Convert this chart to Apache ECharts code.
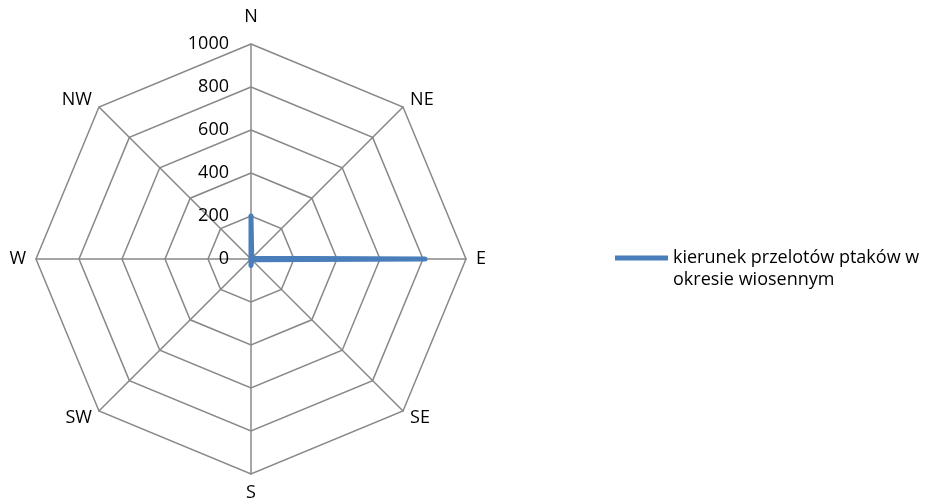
<!DOCTYPE html>
<html><head><meta charset="utf-8">
<script src="https://cdn.jsdelivr.net/npm/echarts@6/dist/echarts.min.js"></script>
<style>html,body{margin:0;padding:0;background:#fff}#c{width:936px;height:503px}</style>
</head><body><div id="c"></div>
<script>
// clockwise from North
const directions = ['N', 'NE', 'E', 'SE', 'S', 'SW', 'W', 'NW'];
const values = [200, 5, 810, 5, 30, 0, 0, 0];
const seriesName = 'kierunek przelotów ptaków w\nokresie wiosennym';
const axisMax = 1000;
const tickCount = 5;

// ECharts radar goes counter-clockwise; reorder so N stays on top and E on the right
const order = [0, 7, 6, 5, 4, 3, 2, 1];
const indicators = order.map((i, k) => ({
  name: directions[i], max: axisMax, min: 0,
  nameGap: k === 0 ? 18 : 10,
  axisLabel: {
    show: k === 0, color: '#000', fontSize: 18, fontFamily: 'Open Sans', margin: 22,
    formatter: v => String(v)
  }
}));
const data = order.map(i => values[i]);

const chart = echarts.init(document.getElementById('c'), null, { renderer: 'canvas' });
chart.setOption({
  animation: false,
  legend: {
    left: 610, top: 220, orient: 'vertical',
    itemWidth: 53, itemHeight: 5,
    icon: 'rect',
    formatter: name => ' \n' + name,
    textStyle: { fontSize: 18, fontFamily: 'Open Sans', color: '#000', lineHeight: 22 },
    data: [seriesName]
  },
  radar: {
    center: [251, 259], radius: 215, startAngle: 90,
    shape: 'polygon', splitNumber: tickCount,
    indicator: indicators,
    axisName: { color: '#000', fontSize: 18, fontFamily: 'Open Sans' },
    nameGap: 10,
    axisLine: { lineStyle: { color: '#888888', width: 1.5 } },
    splitLine: { lineStyle: { color: '#888888', width: 1.5 } },
    splitArea: { show: false },
    axisTick: { show: false },
    axisLabel: { show: false }
  },
  series: [{
    type: 'radar',
    symbol: 'none',
    lineStyle: { color: '#4a7ebb', width: 5, cap: 'round', join: 'round' },
    itemStyle: { color: '#4a7ebb' },
    data: [{ name: seriesName, value: data }]
  }]
});
</script></body></html>
